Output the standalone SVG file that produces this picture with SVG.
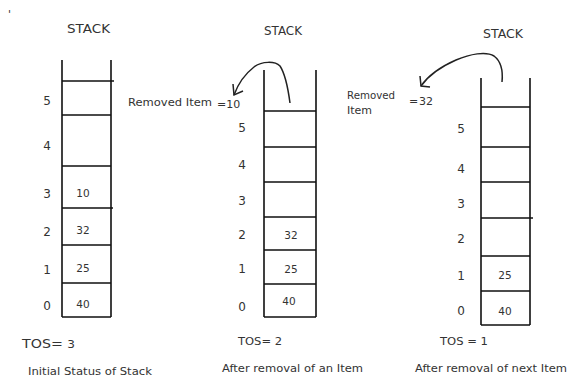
<svg xmlns="http://www.w3.org/2000/svg" width="569" height="379" viewBox="0 0 569 379">
<style>
text{font-family:"DejaVu Sans","Liberation Sans",sans-serif;fill:#333}
.t{font-size:11px}
.h{font-size:12px}
.idx{font-size:12px;text-anchor:middle}
.val{font-size:10.5px;text-anchor:middle}
.ln{stroke:#111;stroke-width:1.6;fill:none}
.arr{stroke:#222;stroke-width:1.5;fill:none}
</style>
<rect width="569" height="379" fill="#fff"/>
<text x="8" y="18" class="t">'</text>
<g id="stack1">
<text x="67" y="33" class="h" textLength="43" lengthAdjust="spacingAndGlyphs">STACK</text>
<path class="ln" d="M62 60V317M111 60V317M62 81H114M62 115H111M62 166H111M62 208H113M62 245H111M62 283H111M62 317H111"/>
<text x="47" y="105" class="idx">5</text><text x="47" y="150" class="idx">4</text><text x="47" y="198" class="idx">3</text><text x="47" y="236" class="idx">2</text><text x="47" y="274" class="idx">1</text><text x="47" y="310" class="idx">0</text>
<text x="83" y="197" class="val">10</text><text x="83" y="234" class="val">32</text><text x="83" y="272" class="val">25</text><text x="83" y="308" class="val">40</text>
<text x="22" y="348" font-size="13" textLength="53" lengthAdjust="spacingAndGlyphs">TOS= <tspan font-size="11">3</tspan></text>
<text x="28" y="375" class="t" textLength="124" lengthAdjust="spacingAndGlyphs">Initial Status of Stack</text>
</g>
<g id="stack2">
<text x="264" y="35" class="h" textLength="38" lengthAdjust="spacingAndGlyphs">STACK</text>
<path class="ln" d="M264 70V317M316 70V317M264 111H316M264 147H316M264 182H316M264 217H316M264 250H316M264 284H316M264 317H316"/>
<text x="242" y="132" class="idx">5</text><text x="242" y="169" class="idx">4</text><text x="242" y="205" class="idx">3</text><text x="242" y="239" class="idx">2</text><text x="242" y="273" class="idx">1</text><text x="242" y="311" class="idx">0</text>
<text x="291" y="239" class="val">32</text><text x="291" y="273" class="val">25</text><text x="289" y="305" class="val">40</text>
<text x="128" y="106" class="t" textLength="84" lengthAdjust="spacingAndGlyphs">Removed Item</text><text x="217" y="108" class="t">=10</text>
<text x="238" y="345" class="t" textLength="44" lengthAdjust="spacingAndGlyphs">TOS= 2</text>
<text x="222" y="372" class="t" textLength="141" lengthAdjust="spacingAndGlyphs">After removal of an Item</text>
</g>
<g id="stack3">
<text x="483" y="38" class="h" textLength="40" lengthAdjust="spacingAndGlyphs">STACK</text>
<path class="ln" d="M481 78V325M530 78V325M481 107H530M481 147H530M481 182H530M481 218H533M481 256H530M481 291H530M481 325H530"/>
<text x="461" y="133" class="idx">5</text><text x="461" y="173" class="idx">4</text><text x="461" y="208" class="idx">3</text><text x="461" y="243" class="idx">2</text><text x="461" y="280" class="idx">1</text><text x="461" y="315" class="idx">0</text>
<text x="505" y="279" class="val">25</text><text x="505" y="315" class="val">40</text>
<text x="347" y="99" class="t" textLength="48" lengthAdjust="spacingAndGlyphs">Removed</text><text x="347" y="114" class="t">Item</text>
<text x="409" y="105" class="t">=</text><text x="419" y="105" class="t">32</text>
<text x="440" y="345" class="t" textLength="48" lengthAdjust="spacingAndGlyphs">TOS = 1</text>
<text x="415" y="372" class="t" textLength="152" lengthAdjust="spacingAndGlyphs">After removal of next Item</text>
</g>
<g id="connectors">
<path class="arr" d="M290 103C288 88 284 72 280 66C275 61 262 61 254 67C245 74 238 84 234 95"/>
<path class="arr" d="M233 84L234 95L243 91"/>
<path class="arr" d="M502 82C503 72 502 62 494 56C486 51 470 54 456 60C440 67 428 76 421 86"/>
<path class="arr" d="M420 76L421 86L430 87"/>
</g>
</svg>
